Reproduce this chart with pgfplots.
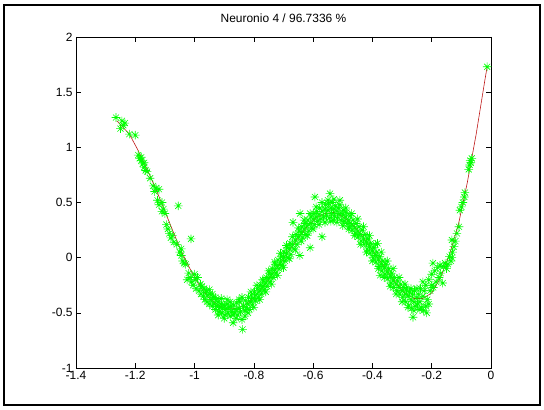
\documentclass[border=0pt]{standalone}
\usepackage{fontspec}
\setmainfont{Liberation Sans}
\usepackage{pgfplots}
\pgfplotsset{compat=1.18}
\pgfdeclareplotmark{mstar}{%
 \pgfpathmoveto{\pgfqpoint{-\pgfplotmarksize}{0pt}}\pgfpathlineto{\pgfqpoint{\pgfplotmarksize}{0pt}}%
 \pgfpathmoveto{\pgfqpoint{0pt}{-\pgfplotmarksize}}\pgfpathlineto{\pgfqpoint{0pt}{\pgfplotmarksize}}%
 \pgfpathmoveto{\pgfqpoint{-.7\pgfplotmarksize}{-.7\pgfplotmarksize}}\pgfpathlineto{\pgfqpoint{.7\pgfplotmarksize}{.7\pgfplotmarksize}}%
 \pgfpathmoveto{\pgfqpoint{-.7\pgfplotmarksize}{.7\pgfplotmarksize}}\pgfpathlineto{\pgfqpoint{.7\pgfplotmarksize}{-.7\pgfplotmarksize}}%
 \pgfusepathqstroke}
\definecolor{mgreen}{rgb}{0,1,0}
\definecolor{mred}{rgb}{0.75,0.1,0.1}
\begin{document}
\begin{tikzpicture}
\useasboundingbox (0,0) rectangle (544bp,410bp);
\draw[line width=1.5bp] (4bp,5bp) rectangle (540bp,405bp);
\begin{axis}[
  at={(76bp,42bp)}, anchor=south west,
  width=415bp, height=331bp, scale only axis,
  xmin=-1.4, xmax=0, ymin=-1, ymax=2,
  xtick={-1.4,-1.2,-1,-0.8,-0.6,-0.4,-0.2,0},
  xticklabels={-1.4,-1.2,-1,-0.8,-0.6,-0.4,-0.2,0},
  ytick={-1,-0.5,0,0.5,1,1.5,2},
  yticklabels={-1,-0.5,0,0.5,1,1.5,2},
  tick align=inside, major tick length=5bp,
  tick style={black, line width=0.6bp},
  axis line style={line width=0.6bp},
  ticklabel style={font=\fontsize{12}{14}\selectfont},
  title={Neuronio 4 / 96.7336 \%},
  title style={font=\fontsize{12}{14}\selectfont, at={(0.5,1)}, anchor=south, yshift=5bp},
  clip=false,
]
\addplot[only marks, mark=mstar, mark size=4.3bp, mgreen, mark options={line width=0.6bp}] coordinates {
(-1.265,1.27) (-1.245,1.24) (-1.25,1.17) (-1.24,1.20) (-1.22,1.12) (-1.235,1.22) (-1.20,1.11)
(-1.19,0.93) (-1.185,0.90) (-1.18,0.88) (-1.175,0.85) (-1.17,0.82) (-1.165,0.79) (-1.18,0.91)
(-1.17,0.86) (-1.16,0.78) (-1.15,0.72) (-1.14,0.65) (-1.13,0.63) (-1.12,0.62) (-1.135,0.60)
(-1.125,0.52) (-1.12,0.48) (-1.11,0.50) (-1.105,0.44) (-1.10,0.40) (-1.11,0.42) (-1.055,0.47)
(-1.095,0.30) (-1.09,0.26) (-1.085,0.22) (-1.08,0.18) (-1.075,0.20) (-1.07,0.14) (-1.012,0.17)
(-1.06,0.12) (-1.05,0.05) (-1.045,0.02) (-1.04,-0.03) (-1.035,-0.05) (-1.045,0.08) (-1.03,-0.06)
(-1.02,-0.14) (-1.015,-0.18) (-1.01,-0.22) (-1.025,-0.20) (-1.005,-0.25) (-1.00,-0.15)
(-0.998,-0.20) (-0.995,-0.28) (-0.99,-0.18) (-0.985,-0.30) (-0.98,-0.24) (-0.978,-0.33)
(-0.975,-0.26) (-0.97,-0.35) (-0.968,-0.28) (-0.965,-0.38) (-0.96,-0.31) (-0.958,-0.40)
(-0.955,-0.34) (-0.95,-0.42) (-0.948,-0.33) (-0.945,-0.38) (-0.94,-0.44) (-0.938,-0.36)
(-0.935,-0.42) (-0.93,-0.47) (-0.928,-0.38) (-0.925,-0.44) (-0.92,-0.40) (-0.918,-0.49)
(-0.915,-0.45) (-0.91,-0.42) (-0.908,-0.50) (-0.905,-0.46) (-0.90,-0.43) (-0.898,-0.52)
(-0.895,-0.47) (-0.89,-0.42) (-0.888,-0.50) (-0.885,-0.45) (-0.88,-0.53) (-0.878,-0.44)
(-0.875,-0.49) (-0.87,-0.59) (-0.868,-0.43) (-0.865,-0.50) (-0.86,-0.47) (-0.858,-0.41)
(-0.855,-0.52) (-0.85,-0.46) (-0.848,-0.40) (-0.845,-0.49) (-0.84,-0.56) (-0.838,-0.65)
(-0.835,-0.44) (-0.83,-0.48) (-0.828,-0.39) (-0.825,-0.45) (-0.82,-0.42) (-0.818,-0.36)
(-0.815,-0.47) (-0.81,-0.40) (-0.808,-0.34) (-0.805,-0.43) (-0.80,-0.37) (-0.798,-0.31)
(-0.795,-0.39) (-0.79,-0.33) (-0.788,-0.28) (-0.785,-0.36) (-0.78,-0.30) (-0.778,-0.25)
(-0.775,-0.33) (-0.77,-0.26) (-0.768,-0.21) (-0.765,-0.29) (-0.76,-0.23) (-0.758,-0.18)
(-0.755,-0.26) (-0.75,-0.19) (-0.748,-0.14) (-0.745,-0.22) (-0.74,-0.15) (-0.738,-0.10)
(-0.735,-0.18) (-0.73,-0.11) (-0.728,-0.06) (-0.725,-0.14) (-0.72,-0.07) (-0.718,-0.02)
(-0.715,-0.10) (-0.71,-0.04) (-0.708,0.01) (-0.705,-0.07) (-0.70,0.00) (-0.698,0.05)
(-0.695,-0.03) (-0.69,0.04) (-0.688,0.09) (-0.685,0.00) (-0.68,0.08) (-0.678,0.13)
(-0.675,0.03) (-0.67,0.12) (-0.668,0.32) (-0.665,0.08) (-0.66,0.16) (-0.658,0.21)
(-0.655,0.12) (-0.65,0.19) (-0.648,0.24) (-0.645,0.02) (-0.644,0.40) (-0.64,0.23)
(-0.638,0.28) (-0.635,0.18) (-0.63,0.26) (-0.628,0.31) (-0.625,0.21) (-0.62,0.29)
(-0.618,0.34) (-0.615,0.24) (-0.61,0.31) (-0.61,0.09) (-0.608,0.37) (-0.605,0.27)
(-0.60,0.35) (-0.598,0.40) (-0.595,0.30) (-0.594,0.55) (-0.59,0.37) (-0.588,0.42)
(-0.585,0.33) (-0.58,0.39) (-0.578,0.45) (-0.575,0.35) (-0.57,0.19) (-0.57,0.42)
(-0.565,0.37) (-0.56,0.44) (-0.558,0.48) (-0.555,0.38) (-0.55,0.43) (-0.548,0.49)
(-0.545,0.36) (-0.543,0.58) (-0.54,0.45) (-0.538,0.40) (-0.535,0.50) (-0.533,0.34)
(-0.53,0.44) (-0.528,0.38) (-0.525,0.47) (-0.52,0.42) (-0.518,0.36) (-0.515,0.45)
(-0.51,0.52) (-0.51,0.40) (-0.505,0.34) (-0.50,0.39) (-0.498,0.43) (-0.495,0.33)
(-0.49,0.37) (-0.488,0.41) (-0.485,0.31) (-0.48,0.34) (-0.478,0.28) (-0.475,0.38)
(-0.47,0.30) (-0.468,0.25) (-0.465,0.34) (-0.46,0.27) (-0.458,0.22) (-0.455,0.31)
(-0.45,0.24) (-0.448,0.19) (-0.445,0.28) (-0.44,0.21) (-0.438,0.15) (-0.435,0.25)
(-0.43,0.17) (-0.428,0.12) (-0.425,0.21) (-0.42,0.14) (-0.418,0.08) (-0.415,0.17)
(-0.41,0.10) (-0.408,0.04) (-0.405,0.13) (-0.40,0.06) (-0.398,0.00) (-0.395,0.09)
(-0.39,0.02) (-0.388,-0.04) (-0.385,0.05) (-0.383,0.13) (-0.38,-0.02) (-0.378,-0.08)
(-0.375,0.01) (-0.374,-0.16) (-0.37,-0.06) (-0.368,-0.12) (-0.365,-0.03) (-0.36,-0.09)
(-0.358,-0.15) (-0.355,-0.06) (-0.35,-0.13) (-0.348,-0.19) (-0.345,-0.10) (-0.34,-0.17)
(-0.338,-0.23) (-0.335,-0.14) (-0.33,-0.21) (-0.328,-0.27) (-0.325,-0.18) (-0.32,-0.24)
(-0.318,-0.30) (-0.315,-0.21) (-0.31,-0.27) (-0.308,-0.33) (-0.305,-0.24) (-0.30,-0.30)
(-0.298,-0.36) (-0.295,-0.27) (-0.29,-0.33) (-0.288,-0.40) (-0.285,-0.29) (-0.28,-0.35)
(-0.278,-0.43) (-0.275,-0.31) (-0.27,-0.38) (-0.268,-0.46) (-0.265,-0.33) (-0.263,-0.54)
(-0.26,-0.40) (-0.258,-0.30) (-0.255,-0.44) (-0.25,-0.36) (-0.248,-0.42) (-0.245,-0.33)
(-0.24,-0.40) (-0.238,-0.28) (-0.235,-0.45) (-0.23,-0.22) (-0.23,-0.35) (-0.228,-0.48)
(-0.225,-0.30) (-0.22,-0.25) (-0.217,-0.50) (-0.215,-0.38) (-0.21,-0.20) (-0.205,-0.30)
(-0.20,-0.15) (-0.196,-0.05) (-0.195,-0.27) (-0.19,-0.12) (-0.185,-0.22) (-0.18,-0.09)
(-0.175,-0.18) (-0.172,-0.07) (-0.17,-0.14) (-0.163,-0.23) (-0.16,-0.08) (-0.155,-0.05)
(-0.15,-0.10) (-0.145,-0.06) (-0.14,0.01) (-0.135,-0.03) (-0.132,0.00) (-0.132,0.16)
(-0.13,0.05) (-0.125,0.10) (-0.12,0.15) (-0.115,0.22) (-0.108,0.28) (-0.105,0.43)
(-0.10,0.46) (-0.095,0.50) (-0.09,0.55) (-0.088,0.59) (-0.075,0.80) (-0.072,0.84)
(-0.07,0.88) (-0.068,0.86) (-0.065,0.90) (-0.013,1.73)
(-0.96,-0.30) (-0.95,-0.29) (-0.94,-0.33) (-0.93,-0.36) (-0.92,-0.52) (-0.91,-0.37)
(-0.90,-0.55) (-0.89,-0.38) (-0.88,-0.40) (-0.87,-0.52) (-0.86,-0.55) (-0.85,-0.38)
(-0.84,-0.36) (-0.83,-0.53) (-0.82,-0.50) (-0.81,-0.31) (-0.80,-0.45) (-0.79,-0.25)
(-0.78,-0.38) (-0.77,-0.20) (-0.76,-0.31) (-0.75,-0.12) (-0.74,-0.24) (-0.73,-0.04)
(-0.72,-0.16) (-0.71,0.04) (-0.70,-0.09) (-0.69,0.11) (-0.68,-0.01) (-0.67,0.19)
(-0.66,0.07) (-0.65,0.27) (-0.64,0.15) (-0.63,0.34) (-0.62,0.20) (-0.61,0.40)
(-0.60,0.26) (-0.59,0.46) (-0.58,0.30) (-0.57,0.50) (-0.56,0.32) (-0.55,0.52)
(-0.54,0.33) (-0.53,0.53) (-0.52,0.32) (-0.51,0.48) (-0.50,0.29) (-0.49,0.45)
(-0.48,0.26) (-0.47,0.40) (-0.46,0.20) (-0.45,0.35) (-0.44,0.12) (-0.43,0.28)
(-0.42,0.05) (-0.41,0.20) (-0.40,-0.03) (-0.39,0.12) (-0.38,-0.10) (-0.37,0.05)
(-0.36,-0.18) (-0.35,-0.03) (-0.34,-0.26) (-0.33,-0.10) (-0.32,-0.33) (-0.31,-0.18)
(-0.30,-0.40) (-0.29,-0.24) (-0.28,-0.45) (-0.27,-0.28) (-0.26,-0.48) (-0.25,-0.28)
(-0.24,-0.47) (-0.22,-0.44) (-0.21,-0.42) (-0.20,-0.25)
};
\addplot[mred, line width=0.6bp, no marks] coordinates {
(-1.262,1.24) (-1.22,1.12) (-1.19,0.97) (-1.16,0.80) (-1.13,0.62) (-1.10,0.42)
(-1.07,0.22) (-1.04,0.03) (-1.01,-0.13) (-0.98,-0.27) (-0.95,-0.37) (-0.92,-0.43)
(-0.89,-0.465) (-0.86,-0.46) (-0.83,-0.43) (-0.80,-0.36) (-0.77,-0.27) (-0.74,-0.16)
(-0.71,-0.05) (-0.68,0.07) (-0.65,0.18) (-0.62,0.28) (-0.59,0.36) (-0.56,0.40)
(-0.53,0.41) (-0.50,0.37) (-0.47,0.31) (-0.44,0.22) (-0.41,0.11) (-0.38,-0.01)
(-0.35,-0.12) (-0.32,-0.23) (-0.29,-0.32) (-0.26,-0.37) (-0.23,-0.37) (-0.20,-0.32)
(-0.17,-0.18) (-0.14,0.03) (-0.11,0.30) (-0.08,0.68) (-0.05,1.12) (-0.02,1.62) (-0.013,1.73)
};
\end{axis}
\end{tikzpicture}
\end{document}
